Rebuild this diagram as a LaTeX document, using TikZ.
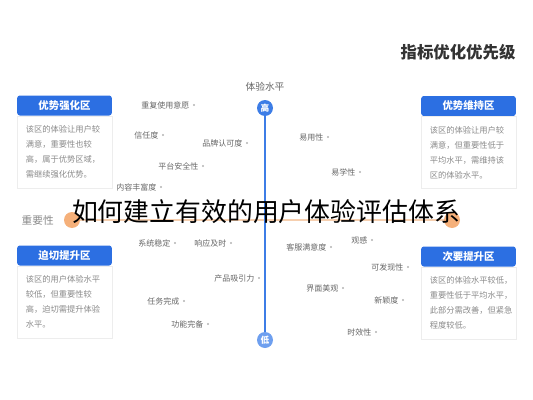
\documentclass[tikz,border=0pt]{standalone}
\usepackage{fontspec}
\setmainfont{Noto Sans CJK SC}
\usepackage{tikz}
\usetikzlibrary{positioning}
\definecolor{hdblue}{HTML}{2C6FE2}
\definecolor{axblue}{HTML}{3D7DE6}
\definecolor{lowblue}{HTML}{6E9FEF}
\definecolor{axorange}{HTML}{F6CFAF}
\definecolor{dotorange}{HTML}{F5B07A}
\definecolor{lblgray}{HTML}{666666}
\definecolor{bodygray}{HTML}{8A8A8A}
\definecolor{cardline}{HTML}{EDEDED}

\begin{document}
\begin{tikzpicture}[x=0.75pt,y=-0.75pt, head/.style={fill=hdblue,rounded corners=2pt,minimum width=71pt,minimum height=15pt,text=white,font=\fontsize{7.8}{9}\selectfont\bfseries},
 cardbody/.style={draw=cardline,fill=white,minimum width=71pt,minimum height=54pt,text width=58pt,align=left,text=bodygray,font=\fontsize{6.2}{11.2}\selectfont},
 pt/.style={anchor=east,inner sep=1pt,text=lblgray,font=\fontsize{6}{7}\selectfont}, ax/.style={circle,inner sep=0pt,minimum size=12pt,text=white,font=\fontsize{6.5}{7}\selectfont\bfseries}]
\useasboundingbox (0,0) rectangle (533,400);
% axes
\node[ax,fill=axblue] (hi) at (265,108) {高}; \node[ax,fill=lowblue] (lo) at (265,340) {低};
\node[ax,fill=dotorange] (imphi) at (72,220) {}; \node[ax,fill=dotorange] (implo) at (452,220) {};
\draw[axorange,line width=1.2pt] (imphi)--(implo); \draw[axblue,line width=1.1pt] (hi)--(lo);
\node[text=lblgray,font=\fontsize{7.3}{8}\selectfont] (expl) [above=3pt of hi] {体验水平};
\node[text=bodygray,font=\fontsize{8}{9}\selectfont] (impl) [left=4pt of imphi] {重要性};
\node[text=black!80,font=\fontsize{12.3}{14}\selectfont\bfseries] (title) at (458,52) {指标优化优先级};
% quadrant cards
\node[head] (tlhead) at (64.5,105.5) {优势强化区}; \node[cardbody] (tlbody) [below=0pt of tlhead] {该区的体验让用户较\\满意，重要性也较\\高，属于优势区域，\\需继续强化优势。};
\node[head] (trhead) at (468.5,106) {优势维持区}; \node[cardbody] (trbody) [below=0pt of trhead] {该区的体验让用户较\\满意，但重要性低于\\平均水平，需维持该\\区的体验水平。};
\node[head] (blhead) at (64.5,255.5) {迫切提升区}; \node[cardbody] (blbody) [below=0pt of blhead] {该区的用户体验水平\\较低，但重要性较\\高，迫切需提升体验\\水平。};
\node[head] (brhead) at (468.5,256.5) {次要提升区}; \node[cardbody] (brbody) [below=0pt of brhead] {该区的体验水平较低，\\重要性低于平均水平，\\此部分需改善，但紧急\\程度较低。};
% metric points
\foreach \px/\py/\txt [count=\i] in {191/105/重复使用意愿,160/135/信任度,244/143/品牌认可度,200/166/平台安全性,158/187/内容丰富度,325/137/易用性,357/172/易学性,
 172/243/系统稳定,228/243/响应及时,256/278/产品吸引力,181/301/任务完成,205/324/功能完备,369/240/观感,328/247/客服满意度,405/267/可发现性,340/288/界面美观,400/300/新颖度,373/332/时效性}
 {\node[pt] (m\i) at (\px,\py) {\txt}; \fill[black!30] (m\i.east) ++(3,0) circle (1.1);}
% overlay caption
\node[font=\fontsize{19.4}{22}\selectfont] (cap) at (266,212) {如何建立有效的用户体验评估体系};
\end{tikzpicture}
\end{document}
